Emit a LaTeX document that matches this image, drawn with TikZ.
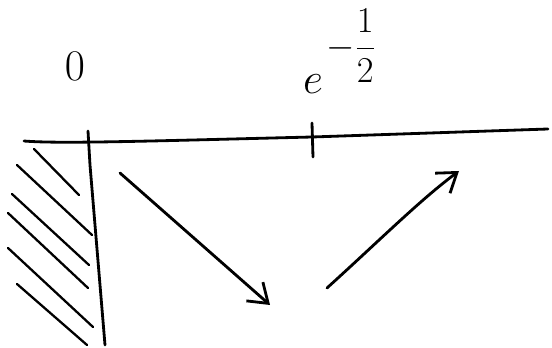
\documentclass[tikz,border=0pt]{standalone}
\usepackage{amsmath}
\usepackage{tikz}
\usetikzlibrary{arrows.meta,positioning,calc}

\begin{document}
\begin{tikzpicture}[x=0.02cm, y=-0.02cm, line cap=round, line join=round,
    pen/.style={line width=1.6pt, black},
    hatch/.style={line width=1.3pt, black},
    varrow/.style={pen, -{Straight Barb[length=3.6mm, width=5mm, line width=1.6pt]}},
    lab/.style={inner sep=0pt, font=\fontsize{34}{40}\selectfont}]
        \useasboundingbox (0,0) rectangle (552,348);

        % Axis and ticks
        \coordinate (axl) at (24,141);
        \coordinate (axr) at (548,129);
        \draw[pen] (axl) .. controls (60,144) and (150,141) .. (312,137) -- (axr);
        \coordinate (zt) at (88,131);
        \coordinate (zb) at (105,345);
        \draw[pen] (zt) -- (90,165) -- (zb);
        \draw[pen] (312,123) -- (313,157);

        % Labels
        \node[lab] (zero) at (75,66) {$0$};
        \node[lab] (ee) at (313,84) {$e$};
        \node[inner sep=0pt, font=\fontsize{21}{24}\selectfont, anchor=west] (expo) at (326,46) {$-\dfrac{1}{2}$};

        % Hatching
        \draw[hatch] (34,149) -- (79,195);
        \draw[hatch] (17,165) -- (92,235);
        \draw[hatch] (12,194) -- (89,265);
        \draw[hatch] (8,213) -- (88,288);
        \draw[hatch] (8,248) -- (93,327);
        \draw[hatch] (17,284) -- (87,345);

        % Variation arrows
        \coordinate (d1) at (120,173);
        \coordinate (d2) at (270,305);
        \coordinate (u1) at (327,288);
        \coordinate (u2) at (459,171);
        \draw[varrow] (d1) -- (d2);
        \draw[varrow] (u1) .. controls (380,240) and (420,200) .. (u2);
    \end{tikzpicture}
\end{document}
